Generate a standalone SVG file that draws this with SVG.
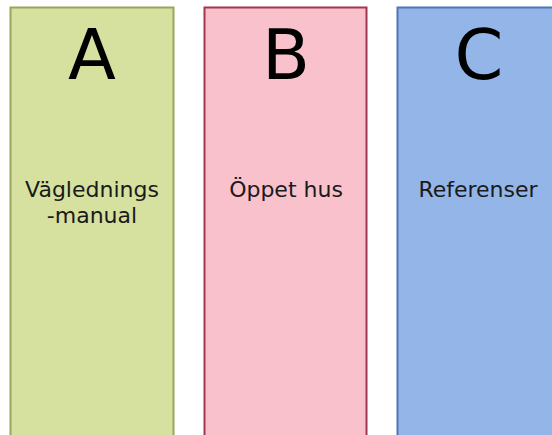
<svg xmlns="http://www.w3.org/2000/svg" width="552" height="435" viewBox="0 0 552 435">
<style>
.big{font-family:"DejaVu Sans",sans-serif;font-size:70px;fill:#000;text-anchor:middle}
.lbl{font-family:"DejaVu Sans",sans-serif;font-size:22px;fill:#1a1a1a;text-anchor:middle}
</style>
<rect width="552" height="435" fill="#fff"/>
<g id="nodeA">
<rect x="10.5" y="7.5" width="163" height="440" fill="#d6e09f" stroke="#98a65c" stroke-width="2"/>
<text class="big" x="92" y="79">A</text>
<text class="lbl" x="92" y="197">Väglednings</text>
<text class="lbl" x="92" y="223">-manual</text>
</g>
<g id="nodeB">
<rect x="204.5" y="7.5" width="162" height="440" fill="#f9c1cc" stroke="#a3364f" stroke-width="2"/>
<text class="big" x="286" y="79">B</text>
<text class="lbl" x="286" y="197">Öppet hus</text>
</g>
<g id="nodeC">
<rect x="397.5" y="7.5" width="170" height="440" fill="#93b5e8" stroke="#4f74b8" stroke-width="2"/>
<text class="big" x="479" y="79">C</text>
<text class="lbl" x="478" y="197">Referenser</text>
</g>
<g id="connectors"></g>
</svg>
